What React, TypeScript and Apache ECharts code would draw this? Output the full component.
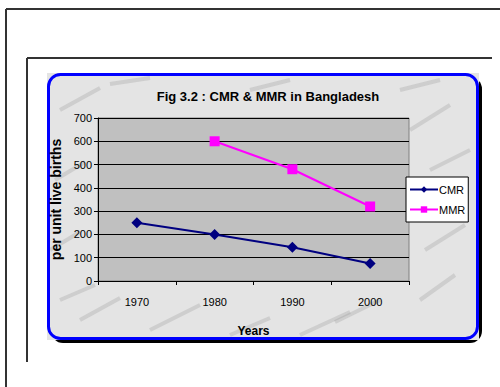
import React, { useEffect, useRef } from "react";
import * as echarts from "echarts";

const years = ["1970", "1980", "1990", "2000"];
const cmr = [250, 200, 145, 75];
const mmr: (number | null)[] = [null, 600, 480, 320];
const seriesNames = ["CMR", "MMR"];
const titleText = "Fig 3.2 : CMR & MMR in Bangladesh";
const yName = "per unit live births";
const xName = "Years";

const FONT = "'Liberation Sans', Arial, sans-serif";

export default function App() {
  const ref = useRef<HTMLDivElement>(null);
  useEffect(() => {
    document.body.style.margin = "0";
    const chart = echarts.init(ref.current!, null, { renderer: "svg" });
    const veins: any[] = [];
    const veinDefs = [
      [60, 110, 100, 88], [150, 330, 200, 305], [300, 335, 350, 312], [420, 300, 455, 275],
      [410, 130, 450, 105], [80, 320, 120, 298], [50, 250, 80, 232], [425, 250, 465, 225],
      [250, 90, 290, 80], [55, 180, 85, 162], [335, 322, 380, 300], [110, 84, 150, 78],
      [430, 170, 470, 150], [60, 300, 95, 285], [230, 335, 270, 318], [400, 90, 440, 80],
    ];
    veinDefs.forEach(([x1, y1, x2, y2]) => {
      veins.push({
        type: "line",
        z: -8,
        shape: { x1, y1, x2, y2 },
        style: { stroke: "rgba(140,140,140,0.25)", lineWidth: 4 },
        silent: true,
      });
    });
    chart.setOption({
      animation: false,
      textStyle: { fontFamily: FONT },
      title: {
        text: titleText,
        left: 263,
        textAlign: "center",
        top: 85,
        textStyle: { fontSize: 13, fontWeight: "bold", color: "#000", fontFamily: FONT },
      },
      graphic: [
        { type: "line", z: -20, shape: { x1: 6, y1: 9, x2: 500, y2: 9 }, style: { stroke: "#333", lineWidth: 2 } },
        { type: "line", z: -20, shape: { x1: 6, y1: 9, x2: 6, y2: 387 }, style: { stroke: "#333", lineWidth: 2 } },
        { type: "line", z: -20, shape: { x1: 27, y1: 58, x2: 492, y2: 58 }, style: { stroke: "#333", lineWidth: 2 } },
        { type: "line", z: -20, shape: { x1: 27, y1: 58, x2: 27, y2: 362 }, style: { stroke: "#333", lineWidth: 2 } },
        { type: "rect", z: -15, shape: { x: 51, y: 77, width: 431, height: 266, r: 12 }, style: { fill: "#000" } },
        { type: "rect", z: -10, shape: { x: 47, y: 73, width: 432, height: 267 }, style: { fill: "#e4e4e4" } },
        ...veins,
        { type: "rect", z: -5, shape: { x: 48.5, y: 74.5, width: 429, height: 264, r: 12 }, style: { fill: "none", stroke: "#0000ff", lineWidth: 3 } },
      ],
      legend: {
        orient: "vertical",
        left: 406,
        top: 177,
        width: 61,
        backgroundColor: "#fff",
        borderColor: "#000",
        borderWidth: 1,
        padding: [7, 3, 7, 3],
        itemGap: 9,
        itemWidth: 28,
        itemHeight: 8,
        textStyle: { fontSize: 11, color: "#000", fontFamily: FONT, padding: [0, 0, 0, -4] },
        data: seriesNames,
      },
      grid: {
        left: 98,
        top: 118,
        width: 311,
        height: 163,
        show: true,
        backgroundColor: "#c0c0c0",
        borderColor: "#808080",
        borderWidth: 1,
      },
      xAxis: {
        type: "category",
        data: years,
        boundaryGap: true,
        name: xName,
        nameLocation: "middle",
        nameGap: 44,
        nameTextStyle: { fontSize: 12, fontWeight: "bold", color: "#000", fontFamily: FONT },
        axisLine: { show: true, lineStyle: { color: "#000", width: 1 } },
        axisTick: { show: true, length: 4, inside: false, alignWithLabel: false, lineStyle: { color: "#000" } },
        axisLabel: { fontSize: 11, color: "#000", margin: 15, fontFamily: FONT },
        splitLine: { show: false },
      },
      yAxis: {
        type: "value",
        min: 0,
        max: 700,
        interval: 100,
        name: yName,
        nameLocation: "middle",
        nameRotate: 90,
        nameGap: 31,
        nameTextStyle: { fontSize: 14, fontWeight: "bold", color: "#000", fontFamily: FONT },
        axisLine: { show: true, lineStyle: { color: "#000", width: 1 } },
        axisTick: { show: true, length: 4, inside: false, lineStyle: { color: "#000" } },
        axisLabel: { fontSize: 11, color: "#000", margin: 6, fontFamily: FONT },
        splitLine: { show: true, lineStyle: { color: "#000", width: 1 } },
      },
      series: [
        {
          name: seriesNames[0],
          type: "line",
          data: cmr,
          symbol: "diamond",
          symbolSize: 11,
          itemStyle: { color: "#000080" },
          lineStyle: { color: "#000080", width: 2 },
        },
        {
          name: seriesNames[1],
          type: "line",
          data: mmr,
          symbol: "rect",
          symbolSize: 10,
          connectNulls: false,
          itemStyle: { color: "#ff00ff" },
          lineStyle: { color: "#ff00ff", width: 2 },
        },
      ],
    });
    return () => chart.dispose();
  }, []);
  return <div ref={ref} style={{ width: 500, height: 387 }} />;
}
